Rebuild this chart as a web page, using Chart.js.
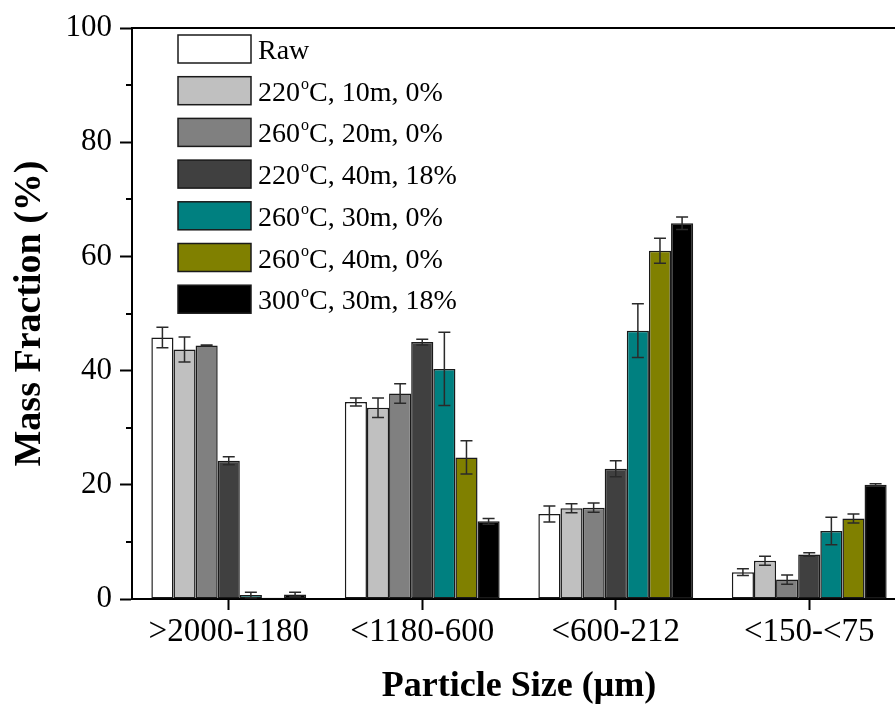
<!DOCTYPE html>
<html>
<head>
<meta charset="utf-8">
<title>Mass fraction by particle size</title>
<script src="https://cdn.jsdelivr.net/npm/chart.js@4.4.1/dist/chart.umd.min.js"></script>
<style>
  html, body { margin: 0; padding: 0; background: #fff; overflow: hidden; }
  canvas { display: block; }
</style>
</head>
<body>
<canvas id="canvas" width="906" height="709"></canvas>
<script>
// particle size classes (µm)
const sizeClasses = ['>2000-1180', '<1180-600', '<600-212', '<150-<75'];

// treatment conditions: temperature, time, moisture
const seriesLabels = [
  'Raw',
  '220°C, 10m, 0%',
  '260°C, 20m, 0%',
  '220°C, 40m, 18%',
  '260°C, 30m, 0%',
  '260°C, 40m, 0%',
  '300°C, 30m, 18%'
];
const seriesColors = ['#ffffff', '#c0c0c0', '#808080', '#404040', '#008080', '#808000', '#000000'];

// mass fraction (%) per size class
const raw      = [45.8, 34.5, 14.9, 4.7];
const t220m10  = [43.7, 33.5, 15.9, 6.7];
const t260m20  = [44.4, 36.0, 16.0, 3.4];
const t220m40  = [24.2, 45.0, 22.8, 7.8];
const t260m30  = [0.7, 40.3, 47.0, 11.9];
const t260m40  = [0.2, 24.8, 61.0, 14.1];
const t300m30  = [0.8, 13.6, 65.8, 20.0];

// standard deviations
const rawErr     = [1.8, 0.7, 1.4, 0.6];
const t220m10Err = [2.2, 1.7, 0.8, 0.8];
const t260m20Err = [0.1, 1.7, 0.8, 0.8];
const t220m40Err = [0.7, 0.5, 1.4, 0.3];
const t260m30Err = [0.5, 6.4, 4.7, 2.4];
const t260m40Err = [0, 2.9, 2.2, 0.8];
const t300m30Err = [0.4, 0.5, 1.1, 0.2];

const yTicks = [0, 20, 40, 60, 80, 100];
const yMinorTicks = [10, 30, 50, 70, 90];

const seriesValues = [raw, t220m10, t260m20, t220m40, t260m30, t260m40, t300m30];
const seriesErrors = [rawErr, t220m10Err, t260m20Err, t220m40Err, t260m30Err, t260m40Err, t300m30Err];

const serif = '"Liberation Serif", "Times New Roman", serif';
Chart.defaults.font.family = serif;
Chart.defaults.color = '#000';

// error bars with caps, drawn on top of the bars
const errorBars = {
  id: 'errorBars',
  afterDatasetsDraw(chart) {
    const ctx = chart.ctx;
    const y = chart.scales.y;
    ctx.save();
    ctx.strokeStyle = '#2a2a2a';
    ctx.lineWidth = 1.5;
    chart.data.datasets.forEach((ds, i) => {
      chart.getDatasetMeta(i).data.forEach((bar, j) => {
        const err = ds.errors[j];
        if (!err) return;
        const v = ds.data[j];
        const top = y.getPixelForValue(v + err);
        const bottom = y.getPixelForValue(Math.max(v - err, 0));
        ctx.beginPath();
        ctx.moveTo(bar.x, top);
        ctx.lineTo(bar.x, bottom);
        ctx.moveTo(bar.x - 6, top);
        ctx.lineTo(bar.x + 6, top);
        ctx.moveTo(bar.x - 6, bottom);
        ctx.lineTo(bar.x + 6, bottom);
        ctx.stroke();
      });
    });
    ctx.restore();
  }
};

// top frame line and the short minor ticks on the y axis
const frame = {
  id: 'frame',
  afterDraw(chart) {
    const { ctx, chartArea } = chart;
    const y = chart.scales.y;
    ctx.save();
    ctx.strokeStyle = '#000';
    ctx.lineWidth = 2;
    ctx.beginPath();
    ctx.moveTo(chartArea.left - 1, chartArea.top);
    ctx.lineTo(chartArea.right, chartArea.top);
    yMinorTicks.forEach(v => {
      const py = Math.round(y.getPixelForValue(v));
      ctx.moveTo(chartArea.left - 6, py);
      ctx.lineTo(chartArea.left, py);
    });
    ctx.stroke();
    ctx.restore();
  }
};

// legend inside the plot: boxes plus labels with a superscript "o" for degrees
const boxLegend = {
  id: 'boxLegend',
  afterDraw(chart) {
    const { ctx, chartArea } = chart;
    const left = chartArea.left + 46;
    const firstRow = chartArea.top + 21;
    const rowStep = 41.7;
    ctx.save();
    chart.data.datasets.forEach((ds, i) => {
      const cy = firstRow + i * rowStep;
      ctx.fillStyle = ds.backgroundColor;
      ctx.fillRect(left, cy - 14, 73, 28);
      ctx.strokeStyle = '#1a1a1a';
      ctx.lineWidth = 1.5;
      ctx.strokeRect(left, cy - 14, 73, 28);

      let x = left + 80;
      const base = cy + 10;
      const parts = ds.label.split('°');
      ctx.fillStyle = '#000';
      ctx.textBaseline = 'alphabetic';
      ctx.textAlign = 'left';
      ctx.font = '28px ' + serif;
      ctx.fillText(parts[0], x, base);
      x += ctx.measureText(parts[0]).width;
      if (parts.length > 1) {
        ctx.font = '16px ' + serif;
        ctx.fillText('o', x + 1, base - 12);
        x += ctx.measureText('o').width + 1;
        ctx.font = '28px ' + serif;
        ctx.fillText(parts[1], x, base);
      }
    });
    ctx.restore();
  }
};

const datasets = seriesLabels.map((label, i) => ({
  label: label,
  data: seriesValues[i],
  errors: seriesErrors[i],
  backgroundColor: seriesColors[i],
  borderColor: '#1a1a1a',
  borderWidth: 1.5,
  borderSkipped: false,
  categoryPercentage: 0.8,
  barPercentage: 1.0
}));

new Chart(document.getElementById('canvas'), {
  type: 'bar',
  data: { labels: sizeClasses, datasets: datasets },
  options: {
    responsive: false,
    animation: false,
    layout: { padding: { top: 28, left: 0, right: 0, bottom: 0 } },
    plugins: {
      legend: { display: false },
      tooltip: { enabled: false }
    },
    scales: {
      x: {
        offset: true,
        afterFit(scale) { scale.height = 110; },
        border: { display: true, color: '#000', width: 2 },
        grid: {
          offset: false,
          drawOnChartArea: false,
          drawTicks: true,
          tickLength: 11,
          tickWidth: 2,
          tickColor: '#000'
        },
        ticks: { font: { size: 33 }, padding: 3, maxRotation: 0 },
        title: {
          display: true,
          text: 'Particle Size (μm)',
          font: { size: 36, weight: 'bold' },
          padding: { top: 0, bottom: 1 }
        }
      },
      y: {
        min: 0,
        max: 100,
        afterFit(scale) { scale.width = 132; },
        afterBuildTicks(scale) { scale.ticks = yTicks.map(v => ({ value: v })); },
        border: { display: true, color: '#000', width: 2 },
        grid: {
          drawOnChartArea: false,
          drawTicks: true,
          tickLength: 12,
          tickWidth: 2,
          tickColor: '#000'
        },
        ticks: { font: { size: 31 }, padding: 8 },
        title: {
          display: true,
          text: 'Mass Fraction (%)',
          font: { size: 38, weight: 'bold' },
          padding: { top: 7, bottom: 0 }
        }
      }
    }
  },
  plugins: [errorBars, frame, boxLegend]
});
</script>
</body>
</html>
